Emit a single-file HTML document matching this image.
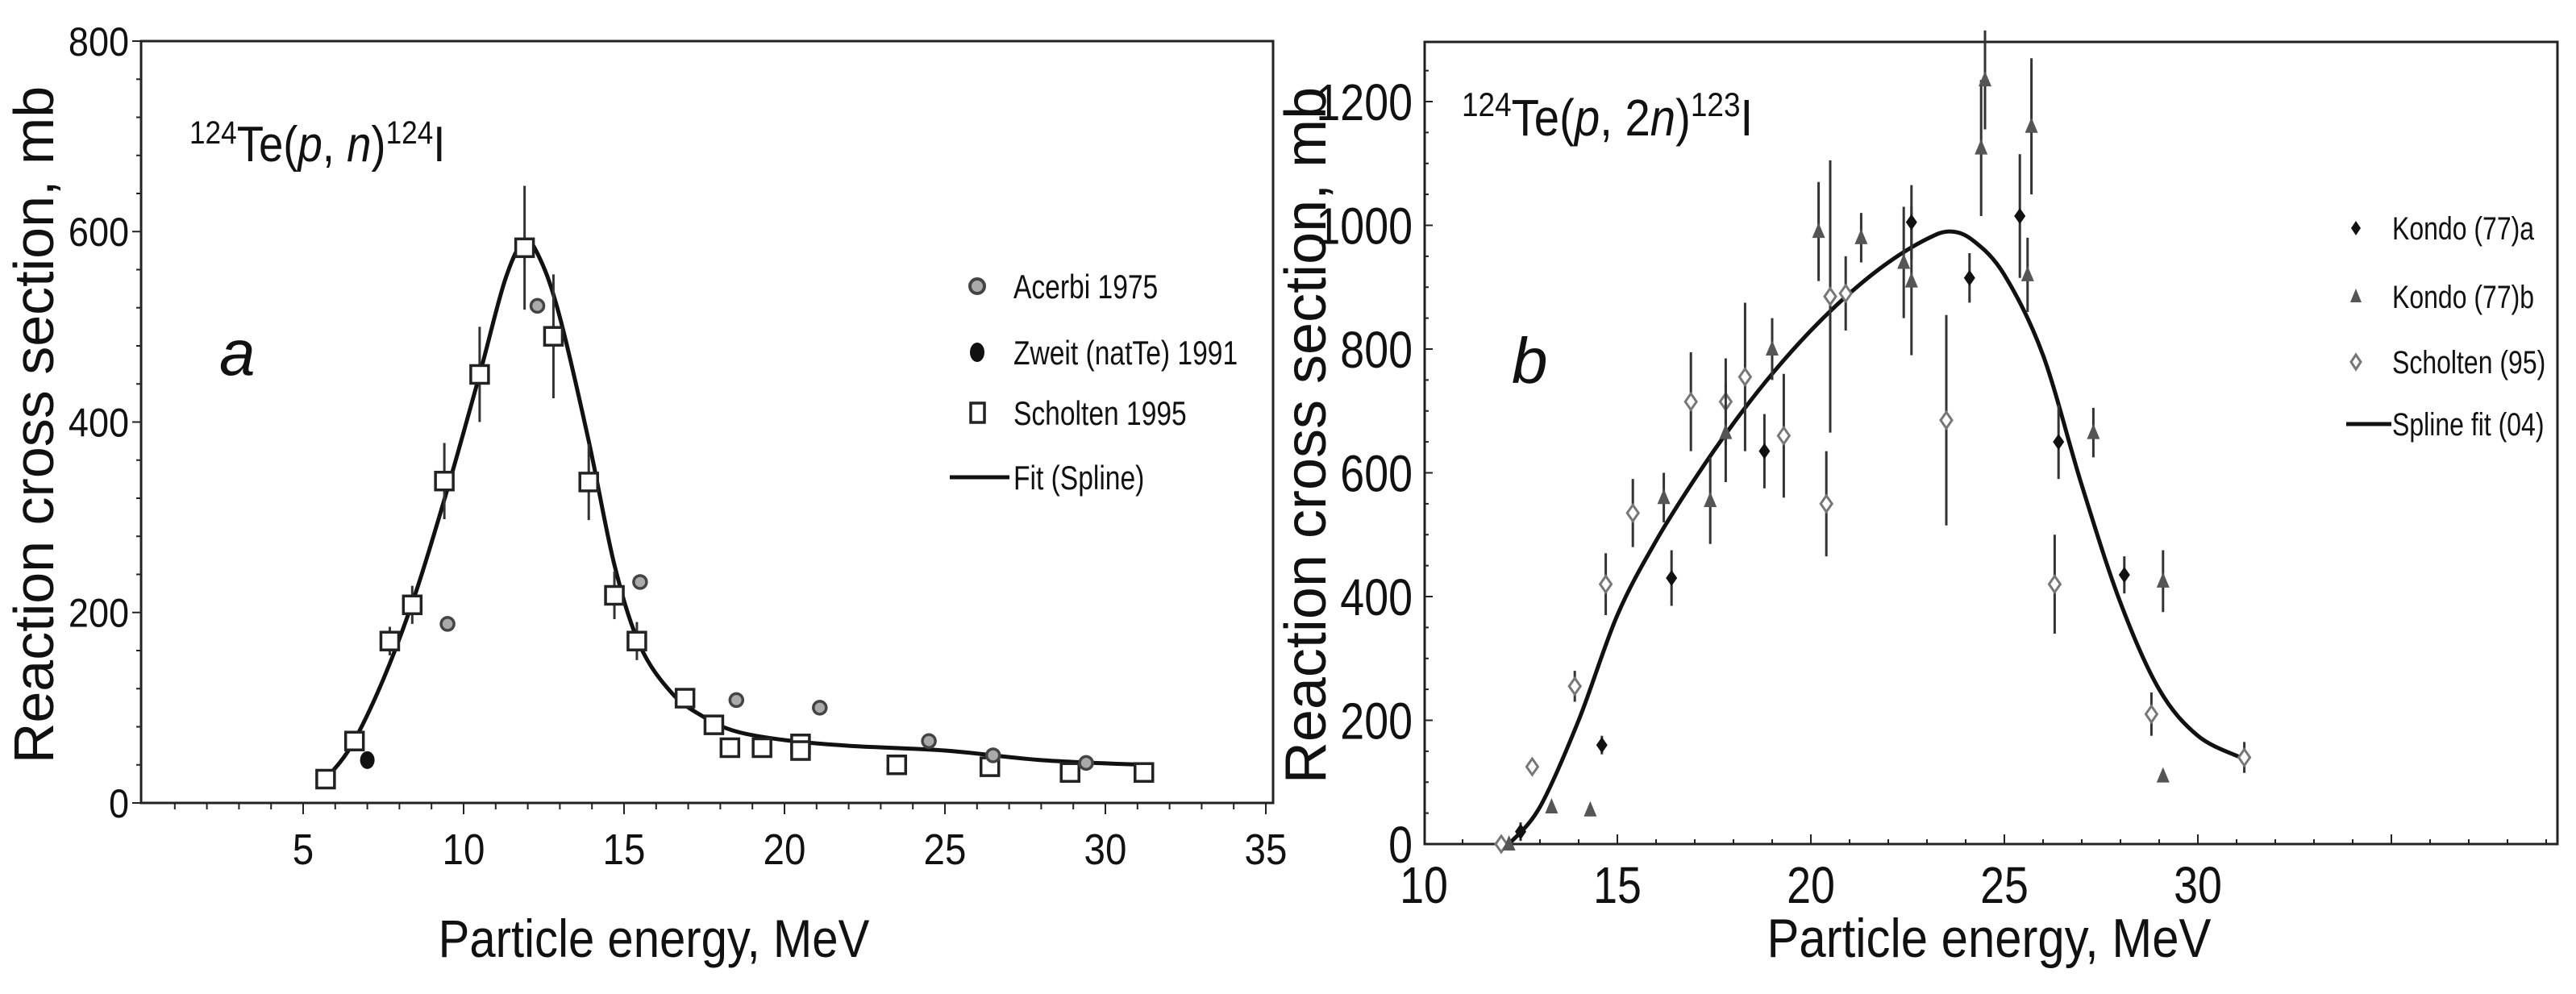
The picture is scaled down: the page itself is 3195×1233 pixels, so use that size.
<!DOCTYPE html>
<html><head><meta charset="utf-8"><style>
html,body{margin:0;padding:0;background:#fff}
svg{display:block}
text{font-family:"Liberation Sans",sans-serif;fill:#111}
</style></head><body>
<svg id="s" width="3195" height="1233" viewBox="0 0 3195 1233"></svg>
<script>
// ---------- Chart A data ----------
const aSchX=[5.7,6.6,7.7,8.4,9.4,10.5,11.9,12.8,13.9,14.7,15.4,16.9,17.8,18.3,19.3,20.5,20.5,23.5,26.4,28.9,31.2];
const aSchY=[25,65,170,208,338,450,583,490,337,218,170,110,82,58,58,62,55,40,38,32,32];
const aSchE=[8,10,15,20,40,50,65,65,40,25,20,10,8,6,6,6,6,5,5,4,4];
const aAceX=[9.5,12.3,15.5,18.5,21.1,24.5,26.5,29.4];
const aAceY=[188,522,232,108,100,65,50,42];
const aZweX=[7.0];
const aZweY=[45];
const aFitX=[5.7,6.5,7.5,8.5,9.5,10.5,11.3,11.9,12.4,13,13.9,14.7,15.5,16.5,17.5,18.5,20,22,25,28,31.2];
const aFitY=[25,60,130,220,330,450,550,590,570,510,380,250,165,115,90,75,66,60,55,45,40];
const aXTicks=[5,10,15,20,25,30,35];
const aYTicks=[0,200,400,600,800];
// ---------- Chart B data ----------
const bKaX=[12.5,14.6,16.4,18.8,22.6,24.1,25.4,26.4,28.1];
const bKaY=[20,160,430,635,1005,915,1015,650,435];
const bKaE=[15,15,45,60,60,40,100,60,30];
const bKbX=[12.2,13.3,14.3,16.2,17.4,17.8,19.0,20.2,21.3,22.4,22.6,24.4,24.5,25.6,25.7,27.3,29.1,29.1];
const bKbY=[0,60,55,560,555,665,800,990,980,940,910,1125,1235,920,1160,665,425,110];
const bKbE=[0,0,0,40,70,80,50,80,40,90,120,110,80,60,110,40,50,10];
const bScX=[12.0,12.8,13.9,14.7,15.4,16.9,17.8,18.3,19.3,20.4,20.5,20.9,23.5,26.3,28.8,31.2];
const bScY=[0,125,255,420,535,715,715,755,660,550,885,890,685,420,210,140];
const bScE=[0,10,25,50,55,80,70,120,100,85,220,60,170,80,35,25];
const bFitX=[12.2,13,14,15,16,17,18,19,20,21,22,23,23.6,24.2,25,26,27,28,29,30,31.1];
const bFitY=[0,60,200,370,490,590,680,760,830,890,940,978,990,975,920,790,580,390,250,175,140];
const bXTicks=[10,15,20,25,30];
const bYTicks=[0,200,400,600,800,1000,1200];

const NS="http://www.w3.org/2000/svg";
const svg=document.getElementById('s');
function el(tag,attrs,parent){const e=document.createElementNS(NS,tag);for(const k in attrs)e.setAttribute(k,attrs[k]);(parent||svg).appendChild(e);return e;}
function txt(str,x,y,size,anchor,parent,sx){
  const k=sx||0.84;
  const t=el('text',{x:x/k,y:y,'font-size':size,'text-anchor':anchor||'start',transform:'scale('+k+',1)'},parent);
  t.textContent=str;return t;
}
function spline(xs,ys,X,Y){
  const p=xs.map((v,i)=>[X(v),Y(ys[i])]);
  let d='M'+p[0][0]+','+p[0][1];
  for(let i=0;i<p.length-1;i++){
    const p0=p[Math.max(0,i-1)],p1=p[i],p2=p[i+1],p3=p[Math.min(p.length-1,i+2)];
    d+=' C'+(p1[0]+(p2[0]-p0[0])/6)+','+(p1[1]+(p2[1]-p0[1])/6)+' '+(p2[0]-(p3[0]-p1[0])/6)+','+(p2[1]-(p3[1]-p1[1])/6)+' '+p2[0]+','+p2[1];
  }
  return d;
}

// ================= Chart A =================
const ga=el('g',{});


const aX=v=>177+v*39.8, aY=v=>996-v*(945/800);
const fa=el('rect',{x:175,y:51,width:1404,height:945,fill:'none',stroke:'#222','stroke-width':3},ga);


for(let v=1;v<=35;v++){const m=el('line',{x1:aX(v),x2:aX(v),y1:996,y2:v%5?1004:1010,stroke:'#222','stroke-width':2},ga);

}
for(let v=0;v<=800;v+=40){const m=el('line',{x1:v%200?169:164,x2:175,y1:aY(v),y2:aY(v),stroke:'#222','stroke-width':2},ga);

}
aXTicks.forEach(v=>{const t=txt(String(v),aX(v),1072,54,'middle',ga,0.88);

});
aYTicks.forEach(v=>{const t=txt(String(v),160,aY(v)+18,50,'end',ga,0.9);

});
let t=txt('Particle energy, MeV',811,1187,66,'middle',ga,0.88);


t=el('text',{x:0,y:0,'font-size':70,'text-anchor':'middle',transform:'translate(66,527) rotate(-90)'},ga);
t.textContent='Reaction cross section, mb';


// annotation
t=el('text',{x:235,y:200,'font-size':62,transform:'scale(0.88,1)',style:'transform-origin:235px 200px'},ga);
t.innerHTML='<tspan dy="-22" font-size="40">124</tspan><tspan dy="22">Te(</tspan><tspan font-style="italic">p</tspan><tspan>, </tspan><tspan font-style="italic">n</tspan><tspan>)</tspan><tspan dy="-22" font-size="40">124</tspan><tspan dy="22">I</tspan>';


t=el('text',{x:272,y:465,'font-size':80,'font-style':'italic'},ga);
t.textContent='a';


// fit
let p=el('path',{d:spline(aFitX,aFitY,aX,aY),fill:'none',stroke:'#111','stroke-width':5},ga);


// scholten
aSchX.forEach((x,i)=>{const cx=aX(x),cy=aY(aSchY[i]);
 const e=el('line',{x1:cx,x2:cx,y1:aY(aSchY[i]+aSchE[i]),y2:aY(aSchY[i]-aSchE[i]),stroke:'#333','stroke-width':3},ga);
 
 
 const m=el('rect',{x:cx-11,y:cy-11,width:22,height:22,fill:'#fff',stroke:'#222','stroke-width':3.5},ga);
 
 });
aAceX.forEach((x,i)=>{const m=el('circle',{cx:aX(x),cy:aY(aAceY[i]),r:8,fill:'#aaa',stroke:'#444','stroke-width':3.5},ga);
 
 });
aZweX.forEach((x,i)=>{const m=el('ellipse',{cx:aX(x),cy:aY(aZweY[i]),rx:9,ry:11,fill:'#111'},ga);
 
 });
// legend A
const la=el('g',{},ga);


let m=el('circle',{cx:1212,cy:355,r:9,fill:'#aaa',stroke:'#444','stroke-width':4},la);


m=el('ellipse',{cx:1212,cy:437,rx:9,ry:12,fill:'#111'},la);


m=el('rect',{x:1204,y:500,width:17,height:24,fill:'#fff',stroke:'#222','stroke-width':3.5},la);


m=el('line',{x1:1178,x2:1252,y1:592,y2:592,stroke:'#111','stroke-width':5},la);


[['Acerbi 1975',355],['Zweit (natTe) 1991',437],['Scholten 1995',512],['Fit (Spline)',592]].forEach(r=>{
 const tt=txt(r[0],1257,r[1]+15,42,'start',la,0.8);
 
 });

// ================= Chart B =================
const gb=el('g',{});


const bX=v=>1766+(v-10)*48, bY=v=>1047-v*(153.5/200);
const fb=el('rect',{x:1767,y:52,width:1405,height:995,fill:'none',stroke:'#222','stroke-width':3},gb);


for(let v=11;v<=39;v++){const mm=el('line',{x1:bX(v),x2:bX(v),y1:1047,y2:v%5?1041:1035,stroke:'#222','stroke-width':2},gb);

}
for(let v=50;v<=1250;v+=50){const mm=el('line',{x1:1767,x2:v%200?1772:1777,y1:bY(v),y2:bY(v),stroke:'#222','stroke-width':2},gb);

}
bXTicks.forEach(v=>{const tt=txt(String(v),bX(v),1120,64,'middle',gb);

});
bYTicks.forEach(v=>{const tt=txt(String(v),1752,bY(v)+23,64,'end',gb);

});
t=txt('Particle energy, MeV',2467,1187,68,'middle',gb,0.88);


t=el('text',{x:0,y:0,'font-size':72,'text-anchor':'middle',transform:'translate(1644,540) rotate(-90)'},gb);
t.textContent='Reaction cross section, mb';


t=el('text',{x:1813,y:168,'font-size':64,transform:'scale(0.88,1)',style:'transform-origin:1813px 168px'},gb);
t.innerHTML='<tspan dy="-24" font-size="42">124</tspan><tspan dy="24">Te(</tspan><tspan font-style="italic">p</tspan><tspan>, 2</tspan><tspan font-style="italic">n</tspan><tspan>)</tspan><tspan dy="-24" font-size="42">123</tspan><tspan dy="24">I</tspan>';


t=el('text',{x:1875,y:475,'font-size':80,'font-style':'italic'},gb);
t.textContent='b';


p=el('path',{d:spline(bFitX,bFitY,bX,bY),fill:'none',stroke:'#111','stroke-width':5},gb);


function ebar(x,y,e,name){if(!e)return;const l=el('line',{x1:bX(x),x2:bX(x),y1:bY(y+e),y2:bY(y-e),stroke:'#333','stroke-width':3},gb);

}
function diamond(cx,cy,w,h){return (cx)+','+(cy-h)+' '+(cx+w)+','+cy+' '+cx+','+(cy+h)+' '+(cx-w)+','+cy;}
bScX.forEach((x,i)=>{ebar(x,bScY[i],bScE[i],'error-bar-scholten-95');
 const mm=el('polygon',{points:diamond(bX(x),bY(bScY[i]),7,10),fill:'#fff',stroke:'#777','stroke-width':3},gb);
 
 });
bKbX.forEach((x,i)=>{ebar(x,bKbY[i],bKbE[i],'error-bar-kondo-b');
 const cx=bX(x),cy=bY(bKbY[i]);
 const mm=el('polygon',{points:cx+','+(cy-11)+' '+(cx+8)+','+(cy+8)+' '+(cx-8)+','+(cy+8),fill:'#555'},gb);
 
 });
bKaX.forEach((x,i)=>{ebar(x,bKaY[i],bKaE[i],'error-bar-kondo-a');
 const mm=el('polygon',{points:diamond(bX(x),bY(bKaY[i]),7,10),fill:'#111'},gb);
 
 });
const lb=el('g',{},gb);


m=el('polygon',{points:diamond(2922,283,6,9),fill:'#111'},lb);


m=el('polygon',{points:'2922,358 2929,375 2915,375',fill:'#555'},lb);


m=el('polygon',{points:diamond(2922,449,6,9),fill:'#fff',stroke:'#777','stroke-width':3},lb);


m=el('line',{x1:2910,x2:2966,y1:526,y2:526,stroke:'#111','stroke-width':5},lb);


[['Kondo (77)a',283],['Kondo (77)b',368],['Scholten (95)',449],['Spline fit (04)',526]].forEach(r=>{
 const tt=txt(r[0],2967,r[1]+14,40,'start',lb,0.8);
 
 });
</script>
</body></html>
